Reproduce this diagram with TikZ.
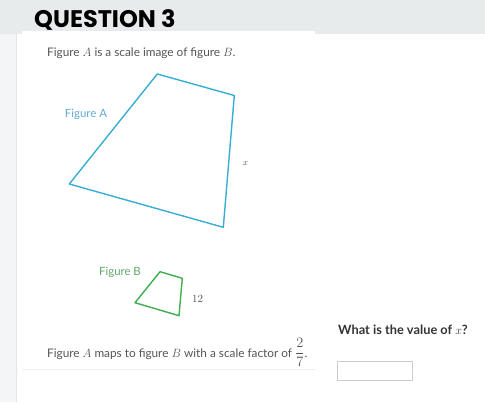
\documentclass[tikz,border=0pt]{standalone}
\usepackage{fontspec}
\usepackage{amsmath}
\setmainfont{Lato}
\newfontfamily\headfont{Poppins}
\usetikzlibrary{positioning}
\definecolor{bandgray}{HTML}{E8EBEC}
\definecolor{stripgray}{HTML}{F4F5F6}
\definecolor{stripline}{HTML}{E2E4E6}
\definecolor{panelline}{HTML}{EEEEEE}
\definecolor{textgray}{HTML}{555555}
\definecolor{darkgray}{HTML}{333333}
\definecolor{figAblue}{HTML}{38AED3}
\definecolor{labAblue}{HTML}{62A9D8}
\definecolor{figBgreen}{HTML}{3EAE4E}
\definecolor{labBgreen}{HTML}{5EAA6C}
\definecolor{boxline}{HTML}{CCCCCC}

\begin{document}
\begin{tikzpicture}[x=1pt,y=-1pt]
\tikzstyle{body}=[inner sep=0pt,anchor=base west,text=textgray,
font=\fontsize{11.8}{14}\selectfont]
\tikzstyle{figlabel}=[inner sep=0pt,font=\fontsize{11.4}{13}\selectfont]
\tikzstyle{side}=[inner sep=0pt,text=textgray]
\useasboundingbox (0,0) rectangle (485,402);
% page background
\fill[white] (0,0) rectangle (485,402);
\fill[stripgray] (0,0) rectangle (16,402);
\draw[stripline] (16.5,0) -- (16.5,402);
\fill[bandgray] (0,0) rectangle (485,34);
\fill[white] (22,31) rectangle (315,34);
\draw[panelline] (22,369) -- (315,369);

\node[inner sep=0pt,anchor=base west,text=black,
font=\headfont\bfseries\fontsize{24}{28}\selectfont] (title) at (34,27) {QUESTION 3};
\node[body] (intro) at (47,56.5) {Figure $A$ is a scale image of figure $B$.};

% figure A
\coordinate (a1) at (157.3,74);
\coordinate (a2) at (234.3,95.5);
\coordinate (a3) at (223.3,227.3);
\coordinate (a4) at (69.3,184);
\draw[figAblue,line width=1.4pt,line join=round] (a1) -- (a2) -- (a3) -- (a4) -- cycle;
\node[figlabel,text=labAblue] (labA) at (86,114) {Figure A};
\node[side,font=\fontsize{9}{10}\selectfont] (sideA) at (245.5,163.5) {$x$};

% figure B
\coordinate (b1) at (160,271.7);
\coordinate (b2) at (182.3,278.3);
\coordinate (b3) at (179,315.7);
\coordinate (b4) at (135,302.7);
\draw[figBgreen,line width=1.4pt,line join=round] (b1) -- (b2) -- (b3) -- (b4) -- cycle;
\node[figlabel,text=labBgreen] (labB) at (120,272) {Figure B};
\node[side,font=\fontsize{11}{12}\selectfont] (sideB) at (197.5,298.5) {$12$};

\node[body] (scale) at (47,357) {Figure $A$ maps to figure $B$ with a scale factor of
{\fontsize{14.5}{16}\selectfont$\dfrac{2}{7}$}.};

% answer
\node[inner sep=0pt,anchor=base west,text=darkgray,
font=\bfseries\fontsize{12.8}{14}\selectfont] (ask) at (338,334.5) {What is the value of $x$?};
\node[draw=boxline,inner sep=0pt,minimum width=75pt,minimum height=18.5pt,
anchor=north west] (answer) at (337.3,361) {};
\end{tikzpicture}
\end{document}
